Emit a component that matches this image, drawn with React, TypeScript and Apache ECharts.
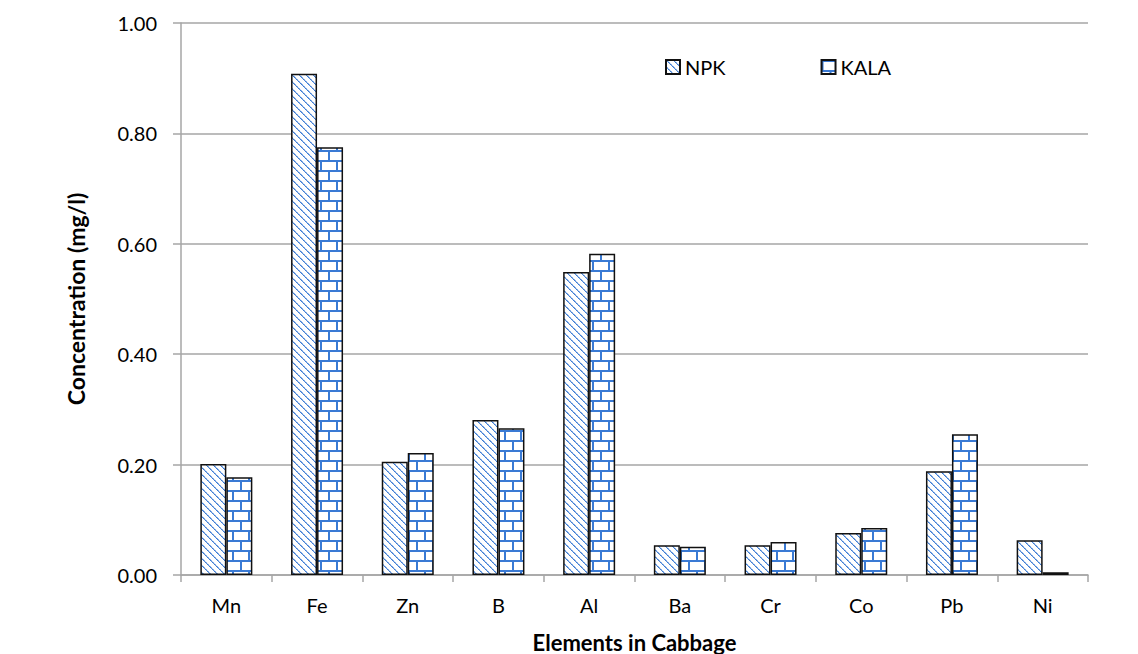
import React, { useEffect, useRef } from "react";
import * as echarts from "echarts";

const categories = ["Mn", "Fe", "Zn", "B", "Al", "Ba", "Cr", "Co", "Pb", "Ni"];
const npkValues = [0.201, 0.908, 0.205, 0.281, 0.549, 0.054, 0.054, 0.076, 0.188, 0.063];
const kalaValues = [0.177, 0.775, 0.221, 0.266, 0.582, 0.051, 0.06, 0.085, 0.255, 0.005];
const seriesNames = ["NPK", "KALA"];

const BLUE = "#3a7ad4";

function makeHatch(): HTMLCanvasElement {
  const n = 7;
  const c = document.createElement("canvas");
  c.width = n;
  c.height = n;
  const ctx = c.getContext("2d")!;
  ctx.fillStyle = "#ffffff";
  ctx.fillRect(0, 0, n, n);
  ctx.fillStyle = BLUE;
  for (let i = 0; i < n; i++) {
    ctx.globalAlpha = i % 2 === 0 ? 1 : 0.85;
    ctx.fillRect(i, i, 1, 1);
    ctx.globalAlpha = i % 2 === 0 ? 0.6 : 0.35;
    ctx.fillRect((i + 1) % n, i, 1, 1);
  }
  return c;
}

function makeBrick(): HTMLCanvasElement {
  const w = 16;
  const h = 20;
  const c = document.createElement("canvas");
  c.width = w;
  c.height = h;
  const ctx = c.getContext("2d")!;
  ctx.fillStyle = "#ffffff";
  ctx.fillRect(0, 0, w, h);
  ctx.fillStyle = BLUE;
  ctx.fillRect(0, 0, w, 2);
  ctx.fillRect(0, 10, w, 2);
  ctx.fillRect(0, 0, 2, 10);
  ctx.fillRect(8, 10, 2, 10);
  return c;
}

export default function App() {
  const ref = useRef<HTMLDivElement>(null);
  useEffect(() => {
    if (!ref.current) return;
    const chart = echarts.init(ref.current, null, { renderer: "svg" });
    const hatch = makeHatch();
    const brick = makeBrick();
    const font = "Lato, 'Noto Sans', sans-serif";
    chart.setOption({
      animation: false,
      backgroundColor: "#ffffff",
      textStyle: { fontFamily: font },
      grid: {
        left: 181,
        right: 50,
        top: 23,
        bottom: 79,
        containLabel: false,
        outerBoundsMode: "none",
      },
      legend: {
        left: 660,
        top: 52,
        itemGap: 95,
        itemWidth: 14,
        itemHeight: 14,
        icon: "rect",
        textStyle: { fontSize: 20, color: "#000", fontFamily: font, padding: [0, 0, 0, 0] },
        data: seriesNames,
      },
      xAxis: {
        type: "category",
        data: categories,
        name: "Elements in Cabbage",
        nameLocation: "middle",
        nameGap: 56,
        nameTextStyle: { fontSize: 22, fontWeight: "bold", color: "#000", fontFamily: font },
        axisLine: { show: true, lineStyle: { color: "#a6a6a6", width: 1.5 } },
        axisTick: { show: true, alignWithLabel: false, length: 7, lineStyle: { color: "#a6a6a6", width: 1.5 } },
        axisLabel: { fontSize: 20, color: "#000", margin: 20, fontFamily: font },
      },
      yAxis: {
        type: "value",
        min: 0,
        max: 1,
        interval: 0.2,
        name: "Concentration (mg/l)",
        nameLocation: "middle",
        nameGap: 94,
        nameTextStyle: { fontSize: 23, fontWeight: "bold", color: "#000", fontFamily: font },
        axisLine: { show: true, lineStyle: { color: "#a6a6a6", width: 1.5 } },
        axisTick: { show: true, length: 8, lineStyle: { color: "#a6a6a6", width: 1.5 } },
        splitLine: { show: true, lineStyle: { color: "#a6a6a6", width: 1.5 } },
        axisLabel: {
          fontSize: 20,
          color: "#000",
          margin: 24,
          fontFamily: font,
          formatter: (v: number) => v.toFixed(2),
        },
      },
      series: [
        {
          name: seriesNames[0],
          type: "bar",
          data: npkValues,
          barWidth: 26,
          barGap: "0%",
          itemStyle: {
            color: { image: hatch, repeat: "repeat" },
            borderColor: "#111",
            borderWidth: 1.5,
          },
        },
        {
          name: seriesNames[1],
          type: "bar",
          data: kalaValues,
          barWidth: 26,
          barGap: "0%",
          itemStyle: {
            color: { image: brick, repeat: "repeat" },
            borderColor: "#111",
            borderWidth: 1.5,
          },
        },
      ],
    });
    return () => chart.dispose();
  }, []);
  return (
    <div
      ref={ref}
      style={{ position: "absolute", left: 0, top: 0, width: 1138, height: 654 }}
    />
  );
}
